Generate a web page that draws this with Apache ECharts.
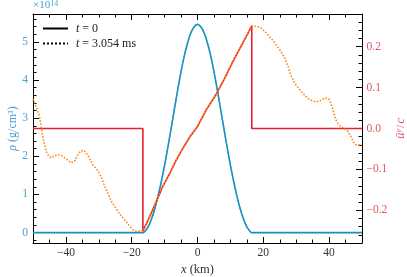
<!DOCTYPE html>
<html><head><meta charset="utf-8">
<script src="https://cdn.jsdelivr.net/npm/echarts@6/dist/echarts.min.js"></script>
<style>html,body{margin:0;padding:0;background:#fff}#c{width:407px;height:277px}</style>
</head><body><div id="c"></div>
<script>
// ---------- data ----------
const xMajor = [-40, -20, 0, 20, 40];
const xMinor = [-45, -35, -30, -25, -15, -10, -5, 5, 10, 15, 25, 30, 35, 45];
const rhoMajor = [0, 1, 2, 3, 4, 5];
const rhoMinor = [-0.2, 0.2, 0.4, 0.6, 0.8, 1.2, 1.4, 1.6, 1.8, 2.2, 2.4, 2.6, 2.8, 3.2, 3.4, 3.6, 3.8, 4.2, 4.4, 4.6, 4.8, 5.2, 5.4, 5.6];
const velMajor = [-0.2, -0.1, 0, 0.1, 0.2];
const velMinor = [-0.26, -0.24, -0.22, -0.18, -0.16, -0.14, -0.12, -0.08, -0.06, -0.04, -0.02, 0.02, 0.04, 0.06, 0.08, 0.12, 0.14, 0.16, 0.18, 0.22, 0.24, 0.26];

// density at t = 0 (units of 1e14 g/cm^3)
const rho0X = [-50, -16.5, -16, -15, -14, -13, -12, -11, -10, -9, -8, -7, -6, -5, -4, -3, -2, -1, 0, 1, 2, 3, 4, 5, 6, 7, 8, 9, 10, 11, 12, 13, 14, 15, 16, 16.5, 50];
const rho0Y = [0, 0, 0.03, 0.15, 0.35, 0.62, 0.95, 1.34, 1.77, 2.24, 2.74, 3.25, 3.75, 4.22, 4.64, 4.98, 5.24, 5.40, 5.46, 5.40, 5.24, 4.98, 4.64, 4.22, 3.75, 3.25, 2.74, 2.24, 1.77, 1.34, 0.95, 0.62, 0.35, 0.15, 0.03, 0, 0];
// density at t = 3.054 ms (lies on top of the t = 0 profile)
const rho1X = [-50, -16.5, -16, -15, -14, -13, -12, -11, -10, -9, -8, -7, -6, -5, -4, -3, -2, -1, 0, 1, 2, 3, 4, 5, 6, 7, 8, 9, 10, 11, 12, 13, 14, 15, 16, 16.5, 50];
const rho1Y = [0, 0, 0.03, 0.15, 0.35, 0.62, 0.95, 1.34, 1.77, 2.24, 2.74, 3.25, 3.75, 4.22, 4.64, 4.98, 5.24, 5.40, 5.46, 5.40, 5.24, 4.98, 4.64, 4.22, 3.75, 3.25, 2.74, 2.24, 1.77, 1.34, 0.95, 0.62, 0.35, 0.15, 0.03, 0, 0];
// velocity at t = 0
const vel0X = [-50, -16.6, -16.6, -14.5, -12.5, -10.5, -8.4, -6.4, -4.4, -2.3, 0, 2.7, 5.8, 8.4, 10.9, 13.7, 16.5, 16.5, 50];
const vel0Y = [0, 0, -0.251, -0.215, -0.178, -0.141, -0.109, -0.076, -0.048, -0.020, 0.005, 0.046, 0.085, 0.125, 0.166, 0.208, 0.251, 0, 0];
// velocity at t = 3.054 ms
const vel1X = [-50, -49.1, -48.1, -47.6, -46.8, -46.0, -45.2, -44.5, -43.5, -42.5, -41.5, -40.5, -39.5, -38.4, -37.4, -36.5, -35.6, -34.6, -33.4, -32.5, -31.8, -30.3, -29.3, -28.5, -27.7, -26.2, -24.2, -22.2, -20.6, -19.6, -18.5, -16.6, -14.5, -12.5, -10.5, -8.4, -6.4, -4.4, -2.3, 0, 2.7, 5.8, 8.4, 10.9, 13.7, 16.5, 17, 19, 21, 23, 25, 26.5, 27.5, 28.5, 29.7, 31.0, 32.5, 34.0, 35.8, 37.3, 38.8, 40.1, 41.0, 42.0, 43.0, 44.0, 45.5, 46.5, 47.5, 48.2, 50];
const vel1Y = [0.072, 0.054, 0.033, 0.008, -0.028, -0.056, -0.068, -0.072, -0.067, -0.064, -0.065, -0.071, -0.077, -0.084, -0.080, -0.066, -0.056, -0.053, -0.064, -0.078, -0.089, -0.103, -0.118, -0.135, -0.150, -0.178, -0.203, -0.223, -0.239, -0.248, -0.251, -0.251, -0.215, -0.178, -0.141, -0.109, -0.076, -0.048, -0.020, 0.005, 0.046, 0.085, 0.125, 0.166, 0.208, 0.251, 0.255, 0.248, 0.233, 0.214, 0.193, 0.172, 0.152, 0.128, 0.109, 0.096, 0.082, 0.071, 0.065, 0.068, 0.075, 0.071, 0.050, 0.022, 0.008, 0.003, -0.005, -0.018, -0.035, -0.040, -0.040];

// ---------- style ----------
const FONT = '"Liberation Serif", "DejaVu Serif", serif';
const BLUE = '#1f9bcc', BLUE_DOT = '#1a86b8', RED = '#e4232b', ORANGE = '#ff8a1c';
const BLUE_TXT = '#4a9fd4', RED_TXT = '#e0555f';
const zip = (a, b) => a.map((v, i) => [v, b[i]]);
const minus = s => s.replace('-', '\u2212');

const chart = echarts.init(document.getElementById('c'), null, {renderer: 'canvas'});
const baseX = {type: 'value', min: -50, max: 50, splitLine: {show: false}};
const tickLine = {color: '#000', width: 1};
const lblStyle = {fontFamily: FONT, fontSize: 11.5};

chart.setOption({
  animation: false,
  backgroundColor: '#fff',
  grid: {left: 33, right: 45, top: 14, bottom: 34, containLabel: false, outerBoundsMode: 'none'},
  xAxis: [
    Object.assign({}, baseX, {position: 'bottom',
      axisLine: {show: true, onZero: false, lineStyle: {color: '#000', width: 1}},
      axisTick: {show: true, inside: true, length: 6, customValues: xMajor, lineStyle: tickLine},
      axisLabel: {show: true, customValues: xMajor, margin: 4, color: '#333', ...lblStyle, formatter: v => minus(String(v))},
      name: '{i|x} (km)', nameLocation: 'middle', nameGap: 20, nameMoveOverlap: false,
      nameTextStyle: {fontFamily: FONT, fontSize: 12.5, color: '#333', rich: {i: {fontFamily: FONT, fontSize: 12.5, fontStyle: 'italic', color: '#333'}}}}),
    Object.assign({}, baseX, {position: 'bottom',
      axisLine: {show: false, onZero: false},
      axisTick: {show: true, inside: true, length: 3.5, customValues: xMinor, lineStyle: tickLine},
      axisLabel: {show: false}}),
    Object.assign({}, baseX, {position: 'top',
      axisLine: {show: true, onZero: false, lineStyle: {color: '#000', width: 1}},
      axisTick: {show: true, inside: true, length: 6, customValues: xMajor, lineStyle: tickLine},
      axisLabel: {show: false}}),
    Object.assign({}, baseX, {position: 'top',
      axisLine: {show: false, onZero: false},
      axisTick: {show: true, inside: true, length: 3.5, customValues: xMinor, lineStyle: tickLine},
      axisLabel: {show: false}})
  ],
  yAxis: [
    {type: 'value', position: 'left', min: -0.273, max: 5.733, splitLine: {show: false},
      axisLine: {show: true, onZero: false, lineStyle: {color: '#000', width: 1}},
      axisTick: {show: true, inside: true, length: 6, customValues: rhoMajor, lineStyle: tickLine},
      axisLabel: {show: true, customValues: rhoMajor, margin: 5, color: BLUE_TXT, ...lblStyle},
      name: '{i|\u03c1} (g/cm\u00b3)', nameLocation: 'middle', nameGap: 14.5, nameRotate: 90, nameMoveOverlap: false,
      nameTextStyle: {fontFamily: FONT, fontSize: 12, color: BLUE_TXT, rich: {i: {fontFamily: FONT, fontSize: 12, fontStyle: 'italic', color: BLUE_TXT}}}},
    {type: 'value', position: 'right', min: -0.28, max: 0.28, splitLine: {show: false},
      axisLine: {show: true, onZero: false, lineStyle: {color: '#000', width: 1}},
      axisTick: {show: true, inside: true, length: 6, customValues: velMajor, lineStyle: tickLine},
      axisLabel: {show: true, customValues: velMajor, margin: 4.5, color: RED_TXT, ...lblStyle,
        formatter: v => (v < -1e-9 ? '\u2212' : '') + Math.abs(v).toFixed(1)},
      name: '{i|\u016b}{s|y}{n|/}{i|c}', nameLocation: 'middle', nameGap: 32, nameRotate: 90, nameMoveOverlap: false,
      nameTextStyle: {fontFamily: FONT, fontSize: 12, color: RED_TXT, rich: {
        i: {fontFamily: FONT, fontSize: 12, fontStyle: 'italic', color: RED_TXT},
        s: {fontFamily: FONT, fontSize: 8.5, fontStyle: 'italic', color: RED_TXT, verticalAlign: 'top', lineHeight: 14},
        n: {fontFamily: FONT, fontSize: 12, color: RED_TXT, padding: [0, 1, 0, 1]}}}},
    {type: 'value', position: 'left', min: -0.273, max: 5.733, splitLine: {show: false},
      axisLine: {show: false, onZero: false},
      axisTick: {show: true, inside: true, length: 3.5, customValues: rhoMinor, lineStyle: tickLine},
      axisLabel: {show: false}},
    {type: 'value', position: 'right', min: -0.28, max: 0.28, splitLine: {show: false},
      axisLine: {show: false, onZero: false},
      axisTick: {show: true, inside: true, length: 3.5, customValues: velMinor, lineStyle: tickLine},
      axisLabel: {show: false}}
  ],
  legend: {
    data: ['leg0', 'leg1'], orient: 'vertical', left: 37, top: 17.5, itemGap: 3, itemWidth: 25, itemHeight: 12,
    padding: 5,
    itemStyle: {color: 'rgba(0,0,0,0)', borderWidth: 0, opacity: 0},
    formatter: n => n === 'leg0' ? '{i|t} = 0' : '{i|t} = 3.054 ms',
    textStyle: {fontFamily: FONT, fontSize: 12, color: '#222', padding: [0, 0, 0, 3],
      rich: {i: {fontFamily: FONT, fontSize: 12, fontStyle: 'italic', color: '#222'}}}
  },
  graphic: [{type: 'text', left: 33, top: 0, style: {
    text: '\u00d710{s|14}', fill: BLUE_TXT, font: '11px ' + FONT,
    rich: {s: {fontSize: 8, fontFamily: FONT, fill: BLUE_TXT, verticalAlign: 'top'}}}}],
  series: [
    {name: 'rho0', type: 'line', xAxisIndex: 0, yAxisIndex: 0, data: zip(rho0X, rho0Y), symbol: 'none', smooth: 0.25,
      lineStyle: {color: BLUE, width: 1.6}, z: 2},
    {name: 'rho1', type: 'line', xAxisIndex: 0, yAxisIndex: 0, data: zip(rho1X, rho1Y), symbol: 'none', smooth: 0.25,
      lineStyle: {color: BLUE_DOT, width: 1.3, type: 'dotted'}, z: 3},
    {name: 'vel0', type: 'line', xAxisIndex: 0, yAxisIndex: 1, data: zip(vel0X, vel0Y), symbol: 'none',
      lineStyle: {color: RED, width: 1.6}, z: 4},
    {name: 'vel1', type: 'line', xAxisIndex: 0, yAxisIndex: 1, data: zip(vel1X, vel1Y), symbol: 'none',
      lineStyle: {color: ORANGE, width: 1.6, type: 'dotted'}, z: 5},
    {name: 'leg0', type: 'line', xAxisIndex: 0, yAxisIndex: 0, data: [], symbol: 'none', lineStyle: {color: '#000', width: 1.6}},
    {name: 'leg1', type: 'line', xAxisIndex: 0, yAxisIndex: 0, data: [], symbol: 'none', lineStyle: {color: '#000', width: 1.6, type: 'dotted'}}
  ]
});
</script>
</body></html>
